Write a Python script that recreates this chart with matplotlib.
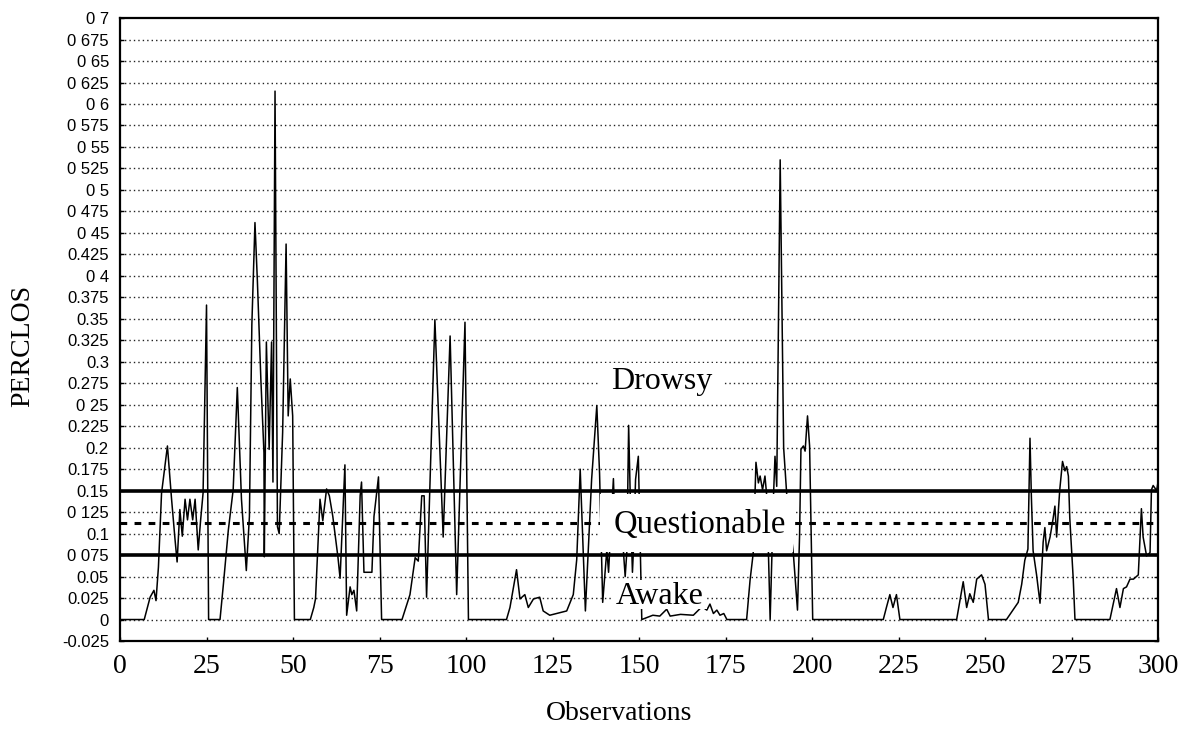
import numpy as np
import matplotlib
matplotlib.use('Agg')
import matplotlib.pyplot as plt
from matplotlib.patches import Rectangle

# PERCLOS trace (vertices of the polyline)
obs = [0, 7, 8.7, 9.8, 10.4, 11.1, 12.0, 13.7, 14.9, 15.9, 16.5, 17.3, 18.0, 18.8, 19.5,
       20.2, 21.0, 21.7, 22.6, 23.3, 24.0, 25.0, 25.6, 28.9, 29.9, 31.3, 32.7, 33.9, 35.1,
       36.5, 37.4, 38.1, 39.0, 39.7, 40.7, 41.6, 41.7, 42.3, 43.1, 43.8, 44.2, 44.8, 45.5,
       46.0, 47.0, 48.0, 48.6, 49.2, 49.9, 50.4,
       55.0, 56.0, 56.5, 57.3, 57.8, 58.6, 59.7, 60.5, 61.5, 63.0, 63.6, 65.0, 65.5, 66.5,
       67.0, 67.6, 68.4, 69.4, 69.8, 70.5, 72.8, 73.4, 74.7, 75.6, 81.5, 83.8, 85.3, 86.2,
       87.2, 87.9, 88.6, 91.0, 93.4, 95.4, 97.3, 99.7, 100.7,
       111.7, 112.7, 114.6, 115.6, 117.0, 118.0, 119.5, 121.3, 122.3, 124.2, 129.1, 131.0,
       132.0, 133.0, 134.5, 136.3, 137.8, 138.6, 139.5, 140.7, 141.2, 141.6, 142.6, 143.2,
       144.5, 145.5, 146.0, 146.5, 147.0, 147.6, 148.1, 148.4, 149.0, 149.8, 150.8,
       154.0, 156.0, 158.0, 159.0, 162.0, 165.7, 168.2, 169.6, 170.5, 171.5, 172.5, 173.4,
       174.5, 175.4, 181.1, 182.1, 183.0, 183.8, 184.5, 185.0, 185.7, 186.4, 187.0, 187.9,
       188.9, 189.3, 189.8, 190.8, 191.8, 192.7, 194.6, 195.8, 196.4, 196.8, 197.5, 198.0,
       198.7, 199.3, 200.2,
       220.6, 221.5, 222.5, 223.4, 224.4, 225.4, 241.8, 243.7, 244.7, 245.6, 246.6, 247.6,
       249.0, 250.0, 251.0, 256.2, 259.6, 260.6, 261.5, 262.4, 263.0, 263.4, 263.9, 264.9,
       265.9, 266.8, 267.3, 267.8, 268.8, 269.7, 270.2, 270.7, 271.6, 272.4, 273.1, 273.6,
       274.1, 274.5, 275.5, 276.0, 286.1, 287.1, 288.0, 289.0, 290.0, 290.9, 291.9, 292.9,
       294.3, 295.2, 295.7, 296.7, 297.7, 298.1, 298.6, 299.6, 300.0, 300.0]
perclos = [0, 0, 0.026, 0.034, 0.022, 0.061, 0.147, 0.202, 0.14, 0.093, 0.067, 0.128, 0.097,
           0.14, 0.116, 0.14, 0.116, 0.14, 0.081, 0.116, 0.147, 0.366, 0.0, 0.0, 0.042, 0.104,
           0.151, 0.27, 0.14, 0.057, 0.12, 0.343, 0.462, 0.394, 0.28, 0.194, 0.073, 0.323,
           0.198, 0.323, 0.16, 0.615, 0.108, 0.1, 0.218, 0.437, 0.237, 0.28, 0.237, 0.0,
           0.0, 0.014, 0.024, 0.096, 0.14, 0.115, 0.152, 0.144, 0.12, 0.072, 0.048, 0.18, 0.005,
           0.038, 0.029, 0.034, 0.01, 0.144, 0.16, 0.055, 0.055, 0.12, 0.166, 0.0, 0.0, 0.029,
           0.072, 0.068, 0.144, 0.144, 0.026, 0.349, 0.096, 0.33, 0.029, 0.346, 0.0,
           0.0, 0.014, 0.058, 0.024, 0.029, 0.014, 0.024, 0.026, 0.01, 0.005, 0.01, 0.029,
           0.07, 0.175, 0.01, 0.163, 0.249, 0.17, 0.02, 0.081, 0.055, 0.087, 0.164, 0.09,
           0.082, 0.079, 0.05, 0.08, 0.226, 0.12, 0.055, 0.082, 0.163, 0.19, 0.0,
           0.005, 0.004, 0.012, 0.004, 0.006, 0.005, 0.015, 0.011, 0.018, 0.007, 0.011, 0.005,
           0.007, 0.0, 0.0, 0.046, 0.077, 0.183, 0.159, 0.167, 0.151, 0.167, 0.14, 0.0,
           0.147, 0.19, 0.155, 0.535, 0.2, 0.145, 0.077, 0.011, 0.097, 0.198, 0.202, 0.196,
           0.237, 0.202, 0.0,
           0.0, 0.014, 0.029, 0.014, 0.029, 0.0, 0.0, 0.044, 0.014, 0.03, 0.02, 0.047,
           0.052, 0.041, 0.0, 0.0, 0.02, 0.041, 0.069, 0.082, 0.211, 0.143, 0.08, 0.052,
           0.019, 0.09, 0.107, 0.08, 0.096, 0.118, 0.132, 0.096, 0.151, 0.184, 0.173, 0.178,
           0.167, 0.118, 0.047, 0.0, 0.0, 0.019, 0.036, 0.014, 0.036, 0.038, 0.047, 0.047,
           0.052, 0.129, 0.096, 0.074, 0.078, 0.151, 0.156, 0.15, 0.16, 0.072]

# thresholds between the zones
upper_limit = 0.15
lower_limit = 0.075
mid_limit = 0.1125

xticks = [0, 25, 50, 75, 100, 125, 150, 175, 200, 225, 250, 275, 300]
ytick_labels = ['-0.025', '0', '0.025', '0.05', '0 075', '0.1', '0 125', '0.15', '0.175',
                '0.2', '0.225', '0 25', '0.275', '0.3', '0.325', '0.35', '0.375', '0 4',
                '0.425', '0 45', '0 475', '0 5', '0 525', '0 55', '0 575', '0 6', '0 625',
                '0 65', '0 675', '0 7']

serif = ['Liberation Serif', 'DejaVu Serif']

fig = plt.figure(figsize=(11.86, 7.32), dpi=100)
ax = fig.add_axes([0.1012, 0.1243, 0.8752, 0.851])

yticks = np.arange(len(ytick_labels)) * 0.025 - 0.025

# dotted grid
for y in yticks[1:-1]:
    if abs(y - upper_limit) < 1e-6 or abs(y - lower_limit) < 1e-6:
        continue
    ax.axhline(y, color='#222222', lw=1.0, ls=(0, (1, 2.2)), zorder=1)

ax.plot(obs, perclos, color='black', lw=1.1, zorder=2)

ax.axhline(mid_limit, color='black', lw=2.2, ls=(0, (2.2, 2.4)), zorder=2)

# white boxes behind the zone labels
ax.add_patch(Rectangle((138.8, 0.079), 55.7, 0.067, facecolor='white', edgecolor='none', zorder=3))
ax.add_patch(Rectangle((138.7, 0.259), 35.6, 0.040, facecolor='white', edgecolor='none', zorder=3))
ax.add_patch(Rectangle((142.5, 0.012), 27.1, 0.034, facecolor='white', edgecolor='none', zorder=3))

ax.axhline(upper_limit, color='black', lw=2.6, zorder=4)
ax.axhline(lower_limit, color='black', lw=2.6, zorder=4)

ax.text(156.6, 0.277, 'Drowsy', ha='center', va='center', fontsize=23, family=serif, zorder=5)
ax.text(167.6, 0.110, 'Questionable', ha='center', va='center', fontsize=23.5, family=serif, zorder=5)
ax.text(156.0, 0.027, 'Awake', ha='center', va='center', fontsize=23, family=serif, zorder=5)

ax.set_xlim(0, 300)
ax.set_ylim(-0.025, 0.7)
ax.set_xticks(xticks)
ax.set_xticklabels([str(t) for t in xticks], fontsize=20, family=serif)
ax.set_yticks(yticks)
ax.set_yticklabels(ytick_labels, fontsize=12, family=['Liberation Sans', 'DejaVu Sans'])
ax.tick_params(axis='y', direction='in', length=3, width=1, right=True, pad=8)
ax.tick_params(axis='x', direction='in', length=3, width=1, pad=9)

for sp in ax.spines.values():
    sp.set_linewidth(1.6)

fig.text(23 / 1186, 1 - 346 / 732, 'PERCLOS', rotation=90, ha='center', va='center',
         fontsize=20, family=serif)
fig.text(619 / 1186, 1 - 714 / 732, 'Observations', ha='center', va='center',
         fontsize=20, family=serif)

fig.savefig('out.png', dpi=100, facecolor='white')
